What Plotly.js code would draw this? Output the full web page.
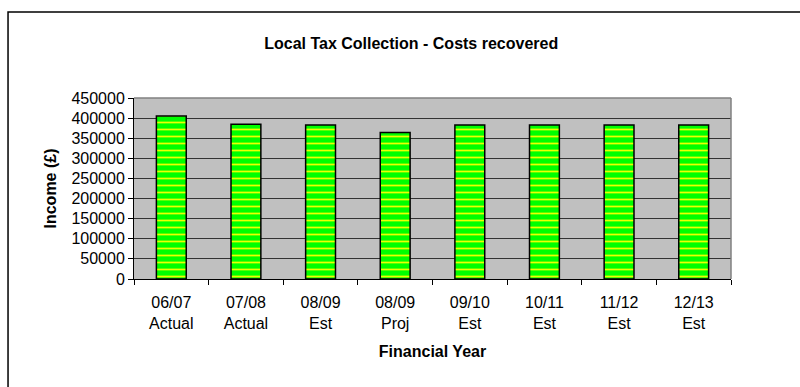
<!DOCTYPE html>
<html>
<head>
<meta charset="utf-8">
<script src="https://cdn.plot.ly/plotly-3.0.1.min.js"></script>
<style>html,body{margin:0;padding:0;background:#fff;}#chart{width:800px;height:387px;}</style>
</head>
<body>
<div id="chart"></div>
<script>
const categories = ["06/07<br>Actual", "07/08<br>Actual", "08/09<br>Est", "08/09<br>Proj", "09/10<br>Est", "10/11<br>Est", "11/12<br>Est", "12/13<br>Est"];
const income = [405000, 385000, 383000, 364000, 383000, 383000, 383000, 383000];
const yTickVals = [0, 50000, 100000, 150000, 200000, 250000, 300000, 350000, 400000, 450000];

const font = "Arial, 'Liberation Sans', sans-serif";

const trace = {
  type: "bar",
  x: categories,
  y: income,
  marker: {
    color: "#00FF00",
    line: {color: "#000000", width: 1.5},
    pattern: {shape: "-", fgcolor: "#EEFF00", bgcolor: "#00FF00", fillmode: "replace", size: 7, solidity: 0.25}
  },
  hoverinfo: "x+y"
};

const layout = {
  width: 800,
  height: 387,
  margin: {l: 134, r: 69, t: 98, b: 108},
  paper_bgcolor: "#FFFFFF",
  plot_bgcolor: "#C0C0C0",
  showlegend: false,
  bargap: 0.6,
  font: {family: font, size: 16, color: "#000"},
  title: {
    text: "<b>Local Tax Collection - Costs recovered</b>",
    font: {family: font, size: 16, color: "#000"},
    xref: "container", yref: "container",
    x: 0.514, xanchor: "center",
    y: 1 - 43/387, yanchor: "middle"
  },
  xaxis: {
    type: "category",
    tickson: "boundaries",
    ticks: "outside",
    ticklen: 5,
    tickcolor: "#000",
    ticklabelstandoff: 9,
    showline: true,
    linecolor: "#000",
    linewidth: 1,
    showgrid: false,
    tickfont: {family: font, size: 16, color: "#000"},
    title: {text: "<b>Financial Year</b>", font: {family: font, size: 16, color: "#000"}, standoff: 14}
  },
  yaxis: {
    range: [0, 450000],
    tickvals: yTickVals,
    ticktext: yTickVals.map(String),
    ticks: "outside",
    ticklen: 5,
    tickcolor: "#000",
    showline: true,
    linecolor: "#000",
    linewidth: 1,
    showgrid: true,
    gridcolor: "#333333",
    gridwidth: 1,
    zeroline: false,
    tickfont: {family: font, size: 16, color: "#000"},
    title: {text: "<b>Income (£)</b>", font: {family: font, size: 16, color: "#000"}, standoff: 10}
  },
  shapes: [
    {type: "line", xref: "paper", yref: "paper", x0: 0, x1: 1, y0: 1, y1: 1, line: {color: "#808080", width: 1.5}},
    {type: "line", xref: "paper", yref: "paper", x0: 1, x1: 1, y0: 0, y1: 1, line: {color: "#808080", width: 1.5}},
    {type: "rect", xref: "paper", yref: "paper", x0: -0.211, x1: 1.3, y0: -1, y1: 1.475, line: {color: "#000", width: 1.5}, layer: "above"}
  ]
};

Plotly.newPlot("chart", [trace], layout, {displayModeBar: false, staticPlot: true});
</script>
</body>
</html>
